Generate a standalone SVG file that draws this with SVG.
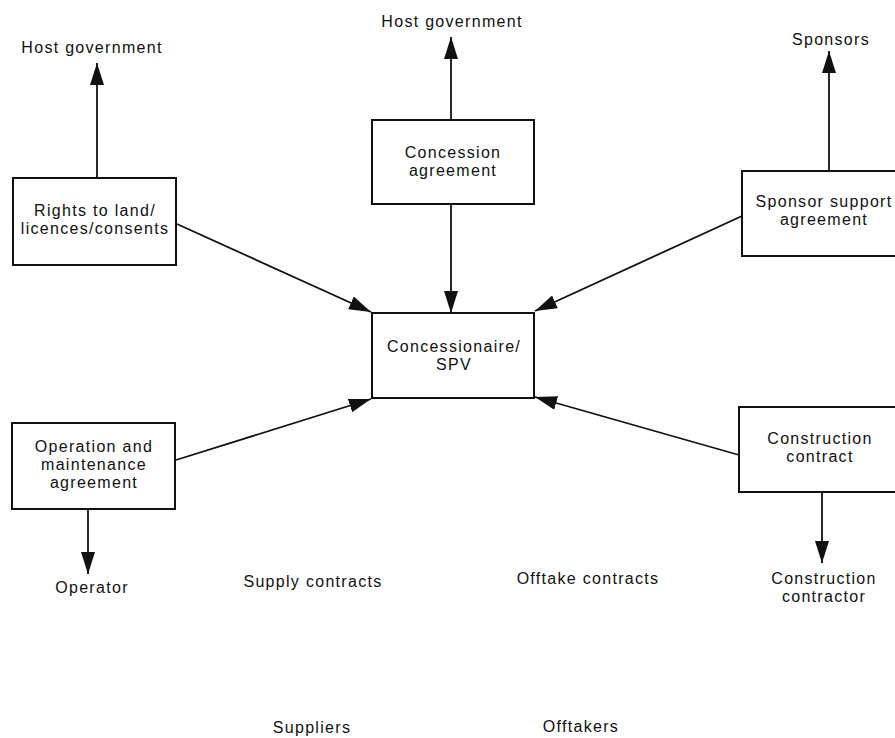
<svg xmlns="http://www.w3.org/2000/svg" width="895" height="738" viewBox="0 0 895 738">
  <style>
    text { font-family: "Liberation Sans", Arial, sans-serif; font-size: 16px; letter-spacing: 1.3px; fill: #111; text-anchor: middle; }
    .box { fill: #fff; stroke: #111; stroke-width: 2; }
    .link { fill: none; stroke: #111; stroke-width: 1.8; marker-end: url(#arrow); }
  </style>
  <defs>
    <marker id="arrow" markerUnits="userSpaceOnUse" markerWidth="22" markerHeight="14" refX="22" refY="7" orient="auto">
      <path d="M0,0 L22,7 L0,14 z" fill="#111"/>
    </marker>
  </defs>
  <rect width="895" height="738" fill="#fff"/>

  <!-- arrows between the agreements and the parties -->
  <g id="connectors">
    <line class="link" x1="97" y1="178" x2="97" y2="63"/>
    <line class="link" x1="451" y1="120" x2="451" y2="37"/>
    <line class="link" x1="829" y1="171" x2="829" y2="51"/>
    <line class="link" x1="451" y1="204" x2="451" y2="313"/>
    <line class="link" x1="177" y1="224" x2="371" y2="312"/>
    <line class="link" x1="742" y1="216" x2="535" y2="311"/>
    <line class="link" x1="176" y1="460" x2="371" y2="399"/>
    <line class="link" x1="739" y1="455" x2="535" y2="397"/>
    <line class="link" x1="88" y1="509" x2="88" y2="574"/>
    <line class="link" x1="822" y1="492" x2="822" y2="563"/>
  </g>

  <g id="host-government-left">
    <text x="92" y="53">Host government</text>
  </g>
  <g id="host-government-top">
    <text x="452" y="27">Host government</text>
  </g>
  <g id="sponsors">
    <text x="831" y="45">Sponsors</text>
  </g>

  <g id="rights">
    <rect class="box" x="13" y="178" width="163" height="87"/>
    <text x="95" y="216">Rights to land/<tspan x="95" dy="18">licences/consents</tspan></text>
  </g>
  <g id="concession">
    <rect class="box" x="372" y="120" width="162" height="84"/>
    <text x="453" y="158">Concession<tspan x="453" dy="18">agreement</tspan></text>
  </g>
  <g id="sponsor-support">
    <rect class="box" x="742" y="171" width="160" height="85"/>
    <text x="824" y="207">Sponsor support<tspan x="824" dy="18">agreement</tspan></text>
  </g>
  <g id="spv">
    <rect class="box" x="372" y="313" width="162" height="85"/>
    <text x="454" y="352">Concessionaire/<tspan x="454" dy="18">SPV</tspan></text>
  </g>
  <g id="om">
    <rect class="box" x="12" y="423" width="163" height="86"/>
    <text x="94" y="452">Operation and<tspan x="94" dy="18">maintenance</tspan><tspan x="94" dy="18">agreement</tspan></text>
  </g>
  <g id="construction">
    <rect class="box" x="739" y="407" width="162" height="85"/>
    <text x="820" y="444">Construction<tspan x="820" dy="18">contract</tspan></text>
  </g>

  <g id="operator">
    <text x="92" y="593">Operator</text>
  </g>
  <g id="supply-contracts">
    <text x="313" y="587">Supply contracts</text>
  </g>
  <g id="offtake-contracts">
    <text x="588" y="584">Offtake contracts</text>
  </g>
  <g id="construction-contractor">
    <text x="824" y="584">Construction<tspan x="824" dy="18">contractor</tspan></text>
  </g>
  <g id="suppliers">
    <text x="312" y="733">Suppliers</text>
  </g>
  <g id="offtakers">
    <text x="581" y="732">Offtakers</text>
  </g>
</svg>
